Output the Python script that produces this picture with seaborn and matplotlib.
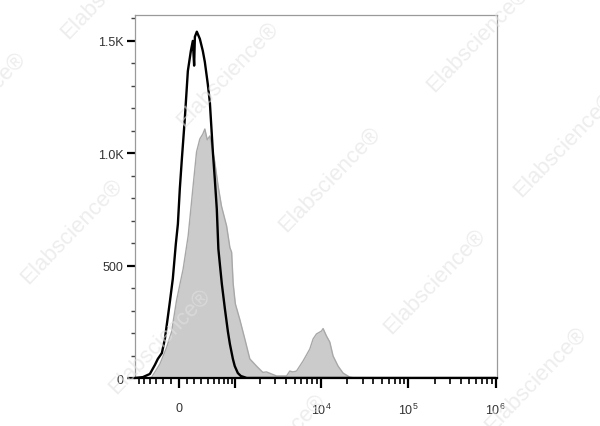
import numpy as np
import matplotlib
matplotlib.use("Agg")
import matplotlib.pyplot as plt
import seaborn as sns
from matplotlib.ticker import FixedLocator, FixedFormatter

# ---------- data ----------
# unstained / isotype control (black outline)
control_x = [-680, -521, -399, -321, -277, -220, -179, -140, -114, -76, -38,
             -12, 12, 38, 75, 114, 153, 179, 197, 207, 234, 277, 321, 352,
             399, 433, 486, 521, 559, 590, 620, 662, 730, 802, 851, 930, 983,
             1075, 1171, 1383, 2000, 1.0e6]
control_y = [0, 4, 18, 58, 85, 111, 174, 271, 338, 441, 596,
             685, 841, 975, 1153, 1366, 1455, 1500, 1390, 1518, 1541, 1509, 1455, 1406,
             1308, 1228, 1006, 886, 752, 574, 507, 418, 307, 205, 151, 85, 53,
             22, 9, 0, 0, 0]

# stained sample (grey filled)
stained_x = [-680, -450, -372, -248, -157, -92, -29, 54, 118, 162, 183, 230,
             277, 320, 352, 390, 433, 521, 585, 654, 770, 851, 896, 938, 1000,
             1138, 1310, 1506, 1810, 2147, 2371, 3099, 4046, 4407, 4768, 5270,
             6269, 7480, 8160, 8920, 10180, 10620, 11600, 12670, 13810, 15760,
             17960, 21400, 24470, 1.0e6]
stained_y = [0, 0, 3, 62, 135, 205, 345, 485, 632, 783, 854, 1006,
             1064, 1085, 1108, 1060, 1077, 961, 854, 765, 676, 580, 560, 420, 330,
             260, 174, 85, 53, 25, 27, 9, 9, 31, 27, 31,
             76, 129, 174, 196, 209, 220, 187, 160, 98, 53,
             22, 4, 0, 0]

x_major = [0, 1e3, 1e4, 1e5, 1e6]
x_major_labels = ["0", "", "$10^4$", "$10^5$", "$10^6$"]
x_minor = ([-v for v in range(100, 700, 100)] + list(range(100, 1000, 100))
           + [m * 10 ** e for e in (3, 4, 5) for m in range(2, 10)])
y_major = [0, 500, 1000, 1500]
y_major_labels = ["0", "500", "1.0K", "1.5K"]
y_minor = [v for v in range(100, 1700, 100) if v % 500]

watermark = "Elabscience\u00ae"
# watermark centres in pixels (x, y from top)
wm_pos = [(228, 75), (330, 180), (72, 232), (435, 282), (160, 342), (478, 40),
          (565, 145), (536, 380), (-25, 105), (112, -13), (275, 447)]

# ---------- plot ----------
sns.set_style("ticks")
plt.rcParams["font.family"] = ["Liberation Sans", "DejaVu Sans"]
plt.rcParams["mathtext.default"] = "regular"

fig = plt.figure(figsize=(6, 4.27), dpi=100)
ax = fig.add_axes([0.225, 0.1124, 0.603, 0.850])
ax.set_xscale("asinh", linear_width=476)

ax.fill_between(stained_x, stained_y, 0, color="#cbcbcb", lw=0, zorder=1)
sns.lineplot(x=stained_x, y=stained_y, color="#a8a8a8", lw=1.0, ax=ax, zorder=2)
sns.lineplot(x=control_x, y=control_y, color="black", lw=1.7, ax=ax, zorder=3)

ax.set_xlim(-680, 1.03e6)
ax.set_ylim(0, 1615)

ax.xaxis.set_major_locator(FixedLocator(x_major))
ax.xaxis.set_major_formatter(FixedFormatter(x_major_labels))
ax.xaxis.set_minor_locator(FixedLocator(x_minor))
ax.yaxis.set_major_locator(FixedLocator(y_major))
ax.yaxis.set_major_formatter(FixedFormatter(y_major_labels))
ax.yaxis.set_minor_locator(FixedLocator(y_minor))

ax.tick_params(axis="x", which="major", length=7, width=1.6, color="black",
               labelsize=9, labelcolor="#333333", pad=10)
ax.tick_params(axis="x", which="minor", length=4, width=1.2, color="black")
ax.tick_params(axis="y", which="major", length=6, width=1.6, color="black",
               labelsize=9, labelcolor="#333333", pad=2)
ax.tick_params(axis="y", which="minor", length=3, width=1.0, color="#444444")

for side in ["top", "right", "left"]:
    ax.spines[side].set_color("#9a9a9a")
    ax.spines[side].set_linewidth(0.9)
ax.spines["bottom"].set_color("black")
ax.spines["bottom"].set_linewidth(1.6)
ax.set_xlabel("")
ax.set_ylabel("")

# faint diagonal watermark, partly running off the edges as in the original
for px, py in wm_pos:
    fig.text(px / 600, 1 - py / 427, watermark, rotation=46, fontsize=16,
             color="#e2e2e2", alpha=0.6, ha="center", va="center",
             rotation_mode="anchor", zorder=10)

fig.savefig("out.png", dpi=100)
